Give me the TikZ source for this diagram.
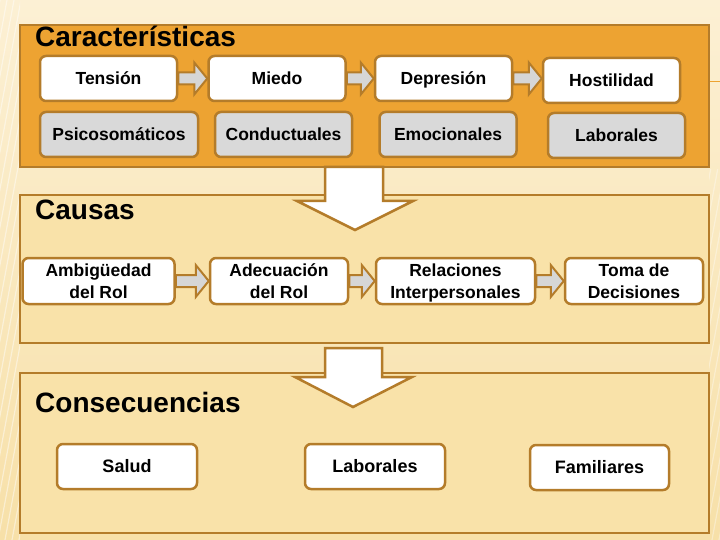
\documentclass[tikz,border=0pt]{standalone}
\usepackage{fontspec}
\setmainfont{Liberation Sans}
\usetikzlibrary{calc}
\definecolor{bgtop}{HTML}{FCF0D4}
\definecolor{bgbot}{HTML}{F7E0A8}
\definecolor{panelorange}{HTML}{EDA332}
\definecolor{panelcream}{HTML}{F9E2A9}
\definecolor{brownline}{HTML}{B47C2A}
\definecolor{nodegray}{HTML}{D9D9D9}
\definecolor{arrowgray}{HTML}{D6D6D6}
\tikzset{
  panel/.style={draw=brownline, line width=2.5pt, rectangle, inner sep=0pt},
  paneltitle/.style={anchor=base west, inner sep=0pt, font=\fontsize{28}{30}\selectfont\bfseries},
  wbox/.style={draw=brownline, line width=2.5pt, rounded corners=6pt, fill=white, inner sep=0pt,
    minimum width=137pt, minimum height=45pt, align=center, font=\fontsize{17.5}{22}\selectfont\bfseries},
  oneline/.style={text height=13pt, text depth=0.4pt},
  twoline/.style={text depth=0pt},
  gbox/.style={wbox, fill=nodegray},
  barrow/.style={draw=brownline, line width=2pt, fill=arrowgray, line join=miter},
  bigarrow/.style={draw=brownline, line width=2.5pt, fill=white, line join=miter}
}
\newcommand{\blockarrow}[2]{%
  \path let \p1=(#1.east), \p2=(#2.west) in
    [barrow] (\x1,\y1+6pt) -- (\x2-13pt,\y1+6pt) -- (\x2-13pt,\y1+16pt) -- (\x2,\y1)
      -- (\x2-13pt,\y1-16pt) -- (\x2-13pt,\y1-6pt) -- (\x1,\y1-6pt) -- cycle;}
\begin{document}
\begin{tikzpicture}[x=1pt,y=-1pt]
\useasboundingbox (0,0) rectangle (720,540);
\shade[top color=bgtop, bottom color=bgbot] (0,0) rectangle (720,540);
% faint stripes on the side margins
\begin{scope}
  \clip (0,0) rectangle (20,540);
  \foreach \i in {0,7,...,640} \draw[white, opacity=0.45, line width=1.2pt] (\i-100,540) -- (\i,0);
\end{scope}
\begin{scope}
  \clip (709,170) rectangle (720,540);
  \foreach \i in {0,7,...,640} \draw[white, opacity=0.35, line width=1.2pt] (\i+600,540) -- (\i+700,0);
\end{scope}
\draw[panelorange, line width=1pt] (709,82) -- (720,82);

% panels
\node[panel, fill=panelorange, minimum width=689pt, minimum height=142pt] (pchar) at (364.5,96) {};
\node[panel, fill=panelcream, minimum width=689pt, minimum height=148pt] (pcaus) at (364.5,269) {};
\node[panel, fill=panelcream, minimum width=689pt, minimum height=160pt] (pcons) at (364.5,453) {};

\node[paneltitle] (tchar) at (35,47) {Características};
\node[paneltitle] (tcaus) at (35,220) {Causas};
\node[paneltitle] (tcons) at (35,412) {Consecuencias};

% big arrows
\coordinate (a1) at (354,167);
\coordinate (a2) at (353,348);
\path[bigarrow] ($(a1)+(-29,0)$) -- ($(a1)+(29,0)$) -- ($(a1)+(29,34)$) -- ($(a1)+(59,34)$)
  -- ($(a1)+(1,63)$) -- ($(a1)+(-57,34)$) -- ($(a1)+(-29,34)$) -- cycle;
\path[bigarrow] ($(a2)+(-28,0)$) -- ($(a2)+(29,0)$) -- ($(a2)+(29,29)$) -- ($(a2)+(59,29)$)
  -- ($(a2)+(0,59)$) -- ($(a2)+(-58,29)$) -- ($(a2)+(-28,29)$) -- cycle;

% Caracteristicas
\node[wbox, oneline] (tension) at (108.5,78.5) {Tensión};
\node[wbox, oneline] (miedo) at (277,78.5) {Miedo};
\node[wbox, oneline] (depresion) at (443.5,78.5) {Depresión};
\node[wbox, oneline] (hostilidad) at (611.5,80.5) {Hostilidad};
\node[gbox, oneline, minimum width=158pt] (psico) at (119,134.5) {Psicosomáticos};
\node[gbox, oneline] (conduct) at (283.5,134.5) {Conductuales};
\node[gbox, oneline] (emoc) at (448,134.5) {Emocionales};
\node[gbox, oneline] (labc) at (616.5,135.5) {Laborales};
\blockarrow{tension}{miedo}
\blockarrow{miedo}{depresion}
\blockarrow{depresion}{hostilidad}

% Causas
\node[wbox, twoline, minimum width=152pt, minimum height=46pt] (ambig) at (98.5,281) {Ambigüedad\\del Rol};
\node[wbox, twoline, minimum width=138pt, minimum height=46pt] (adec) at (279,281) {Adecuación\\del Rol};
\node[wbox, twoline, minimum width=159pt, minimum height=46pt] (relac) at (455.5,281) {Relaciones\\Interpersonales};
\node[wbox, twoline, minimum width=138pt, minimum height=46pt] (toma) at (634,281) {Toma de\\Decisiones};
\blockarrow{ambig}{adec}
\blockarrow{adec}{relac}
\blockarrow{relac}{toma}

% Consecuencias
\node[wbox, oneline, minimum width=140pt, font=\fontsize{18}{22}\selectfont\bfseries] (salud) at (127,466.5) {Salud};
\node[wbox, oneline, minimum width=140pt, font=\fontsize{18}{22}\selectfont\bfseries] (labcons) at (375,466.5) {Laborales};
\node[wbox, oneline, minimum width=139pt, font=\fontsize{18}{22}\selectfont\bfseries] (famil) at (599.5,467.5) {Familiares};
\end{tikzpicture}
\end{document}
